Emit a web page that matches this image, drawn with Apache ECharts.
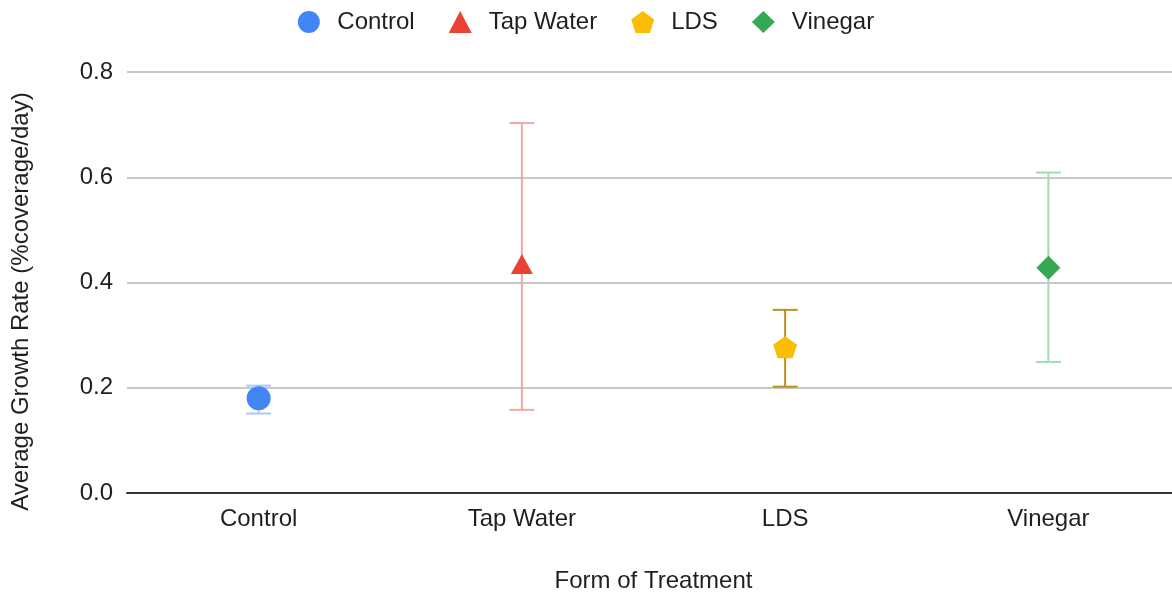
<!DOCTYPE html>
<html>
<head>
<meta charset="utf-8">
<script src="https://cdn.jsdelivr.net/npm/echarts@6/dist/echarts.min.js"></script>
<style>
html, body { margin: 0; padding: 0; background: #fff; }
#chart { width: 1172px; height: 592px; }
</style>
</head>
<body>
<div id="chart"></div>
<script>
var categories = ['Control', 'Tap Water', 'LDS', 'Vinegar'];
var means = [0.180, 0.435, 0.277, 0.428];
var lows = [0.151, 0.158, 0.202, 0.249];
var highs = [0.204, 0.703, 0.348, 0.609];
var yTicks = [0, 0.2, 0.4, 0.6, 0.8];

var colors = ['#4285f4', '#ea4335', '#fbbc04', '#34a853'];
var barColors = ['#a9c8fa', '#f4a7a0', '#b8901c', '#a3dcb0'];
var symbols = [
    'circle',
    'triangle',
    'path://M0,-100L95.1,-30.9L58.8,80.9L-58.8,80.9L-95.1,-30.9Z',
    'diamond'
];
var sizes = [[24, 24], [22, 20], [24, 22], [24, 24]];

var myChart = echarts.init(document.getElementById('chart'));
var font = '"Liberation Sans", Arial, sans-serif';

var series = [];
// error bars
categories.forEach(function (c, i) {
    series.push({
        name: c + ' err',
        type: 'custom',
        silent: true,
        z: 1,
        data: [[i, lows[i], highs[i]]],
        renderItem: function (params, api) {
            var top = api.coord([api.value(0), api.value(2)]);
            var bot = api.coord([api.value(0), api.value(1)]);
            var hw = 12.5;
            var st = { stroke: barColors[i], lineWidth: 2 };
            return {
                type: 'group',
                children: [
                    { type: 'line', shape: { x1: top[0], y1: top[1], x2: bot[0], y2: bot[1] }, style: st },
                    { type: 'line', shape: { x1: top[0] - hw, y1: top[1], x2: top[0] + hw, y2: top[1] }, style: st },
                    { type: 'line', shape: { x1: bot[0] - hw, y1: bot[1], x2: bot[0] + hw, y2: bot[1] }, style: st }
                ]
            };
        }
    });
});
// points
categories.forEach(function (c, i) {
    var d = categories.map(function () { return '-'; });
    d[i] = means[i];
    series.push({
        name: c,
        type: 'scatter',
        z: 3,
        symbol: symbols[i],
        symbolSize: sizes[i],
        itemStyle: { color: colors[i], opacity: 1 },
        data: d
    });
});

var option = {
    animation: false,
    color: colors,
    legend: {
        top: 5,
        left: 'center',
        data: categories.map(function (c, i) {
            return { name: c, icon: symbols[i] };
        }),
        itemWidth: 23,
        itemHeight: 22,
        itemGap: 34,
        textStyle: { fontFamily: font, fontSize: 24, color: '#1f1f1f', padding: [0, 0, 0, 12] }
    },
    grid: { left: 127, width: 1053, top: 72, bottom: 99, containLabel: false, outerBoundsMode: 'none' },
    xAxis: {
        type: 'category',
        data: categories,
        name: 'Form of Treatment',
        nameLocation: 'middle',
        nameGap: 76,
        nameTextStyle: { fontFamily: font, fontSize: 24, color: '#1f1f1f' },
        axisLine: { lineStyle: { color: '#333', width: 2 } },
        axisTick: { show: false },
        axisLabel: { fontFamily: font, fontSize: 24, color: '#1f1f1f', margin: 14 }
    },
    yAxis: {
        type: 'value',
        min: yTicks[0],
        max: yTicks[yTicks.length - 1],
        interval: 0.2,
        name: 'Average Growth Rate (%coverage/day)',
        nameLocation: 'middle',
        nameGap: 94,
        nameTextStyle: { fontFamily: font, fontSize: 24, color: '#1f1f1f', padding: [0, 38, 0, 0] },
        axisLine: { show: false },
        axisTick: { show: false },
        splitLine: { lineStyle: { color: '#c8c8c8', width: 2 } },
        axisLabel: {
            fontFamily: font, fontSize: 24, color: '#1f1f1f', margin: 14,
            formatter: function (v) { return v.toFixed(1); }
        }
    },
    series: series
};

myChart.setOption(option);
window.addEventListener('resize', function () {
    myChart.resize();
});
</script>
</body>
</html>
